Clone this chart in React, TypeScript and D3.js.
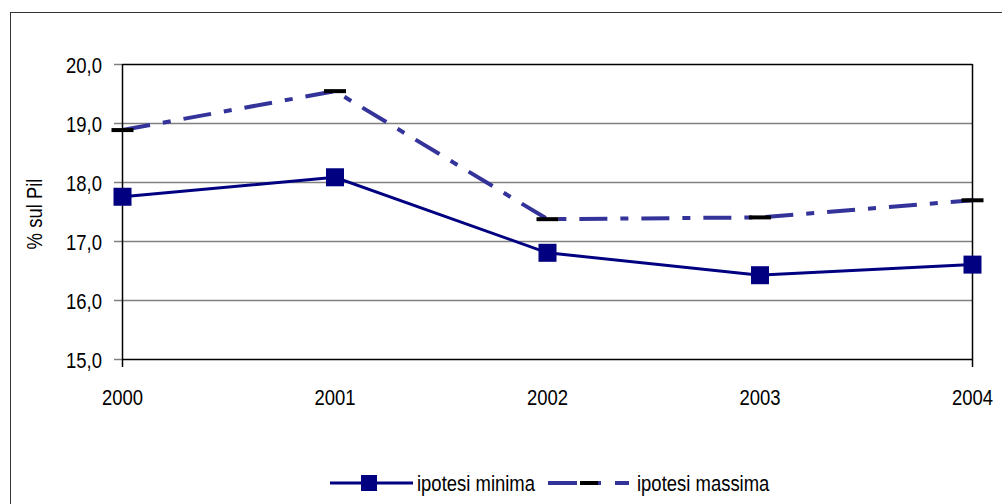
import React, { useEffect, useRef } from "react";
import * as d3 from "d3";

const years = ["2000", "2001", "2002", "2003", "2004"];
const ipotesiMinima = [17.75, 18.08, 16.8, 16.42, 16.6];
const ipotesiMassima = [18.88, 19.54, 17.37, 17.4, 17.69];
const yTicks = [15, 16, 17, 18, 19, 20];

const App = () => {
  const svgRef = useRef<SVGSVGElement | null>(null);

  useEffect(() => {
    const svg = d3.select(svgRef.current);
    svg.selectAll("*").remove();

    const font = "'Liberation Sans', Arial, sans-serif";
    const fs = 22;
    const squeeze = 0.84;

    // narrow-looking text: normal Arial squeezed horizontally
    const label = (
      tx: number,
      ty: number,
      str: string,
      anchor: string,
      rotate = 0
    ) =>
      svg
        .append("text")
        .attr(
          "transform",
          `translate(${tx},${ty}) rotate(${rotate}) scale(${squeeze},1)`
        )
        .attr("text-anchor", anchor)
        .attr("font-family", font)
        .attr("font-size", fs)
        .attr("fill", "#000")
        .text(str);

    // outer frame
    svg
      .append("rect")
      .attr("x", 10.5)
      .attr("y", 12.5)
      .attr("width", 1000)
      .attr("height", 500)
      .attr("fill", "none")
      .attr("stroke", "#333")
      .attr("stroke-width", 1);

    const x = d3.scalePoint().domain(years).range([122.5, 972.5]);
    const y = d3.scaleLinear().domain([15, 20]).range([359, 64]);

    // gridlines + y ticks
    yTicks.forEach((t) => {
      const yy = Math.round(y(t)) + 0.5;
      svg
        .append("line")
        .attr("x1", 114)
        .attr("x2", 122.5)
        .attr("y1", yy)
        .attr("y2", yy)
        .attr("stroke", "#808080")
        .attr("stroke-width", 1.5);
      if (t > 15 && t < 20) {
        svg
          .append("line")
          .attr("x1", 122.5)
          .attr("x2", 972.5)
          .attr("y1", yy)
          .attr("y2", yy)
          .attr("stroke", "#808080")
          .attr("stroke-width", 1.5);
      }
      label(102, yy + 8, d3.format(".1f")(t).replace(".", ","), "end");
    });

    // plot frame
    [20, 15].forEach((v) => {
      svg
        .append("line")
        .attr("x1", 122.5)
        .attr("x2", 972.5)
        .attr("y1", Math.round(y(v)) + 0.5)
        .attr("y2", Math.round(y(v)) + 0.5)
        .attr("stroke", "#000")
        .attr("stroke-width", 1.5);
    });
    [122.5, 972.5].forEach((xx) => {
      svg
        .append("line")
        .attr("x1", xx)
        .attr("x2", xx)
        .attr("y1", y(20))
        .attr("y2", y(15) + 8)
        .attr("stroke", "#000")
        .attr("stroke-width", 1.5);
    });

    // x labels
    years.forEach((yr) => label(x(yr)!, 405, yr, "middle"));

    // y title
    label(42, 214, "% sul Pil", "middle", -90);

    const line = d3
      .line<number>()
      .x((d, i) => x(years[i])!)
      .y((d) => y(d));

    // ipotesi massima
    svg
      .append("path")
      .datum(ipotesiMassima)
      .attr("d", line)
      .attr("fill", "none")
      .attr("stroke", "#333399")
      .attr("stroke-width", 4)
      .attr("stroke-dasharray", "28,13,8,13");
    svg
      .selectAll(".maxMark")
      .data(ipotesiMassima)
      .enter()
      .append("rect")
      .attr("x", (d, i) => x(years[i])! - 11)
      .attr("y", (d) => y(d) - 2)
      .attr("width", 22)
      .attr("height", 4)
      .attr("fill", "#000");

    // ipotesi minima
    svg
      .append("path")
      .datum(ipotesiMinima)
      .attr("d", line)
      .attr("fill", "none")
      .attr("stroke", "#000080")
      .attr("stroke-width", 3);
    svg
      .selectAll(".minMark")
      .data(ipotesiMinima)
      .enter()
      .append("rect")
      .attr("x", (d, i) => x(years[i])! - 9)
      .attr("y", (d) => y(d) - 9)
      .attr("width", 18)
      .attr("height", 18)
      .attr("fill", "#000080");

    // legend
    const ly = 483;
    svg
      .append("line")
      .attr("x1", 330)
      .attr("x2", 413)
      .attr("y1", ly)
      .attr("y2", ly)
      .attr("stroke", "#000080")
      .attr("stroke-width", 3);
    svg
      .append("rect")
      .attr("x", 361)
      .attr("y", ly - 8)
      .attr("width", 16)
      .attr("height", 16)
      .attr("fill", "#000080");
    label(417, ly + 8, "ipotesi minima", "start");

    svg
      .append("line")
      .attr("x1", 548)
      .attr("x2", 630)
      .attr("y1", ly)
      .attr("y2", ly)
      .attr("stroke", "#333399")
      .attr("stroke-width", 4)
      .attr("stroke-dasharray", "29,14,10,14,14");
    svg
      .append("rect")
      .attr("x", 580)
      .attr("y", ly - 2)
      .attr("width", 18)
      .attr("height", 4)
      .attr("fill", "#000");
    label(637, ly + 8, "ipotesi massima", "start");
  }, []);

  return (
    <svg
      ref={svgRef}
      width={1002}
      height={504}
      style={{ position: "absolute", left: 0, top: 0, background: "#fff" }}
    ></svg>
  );
};

export default App;
